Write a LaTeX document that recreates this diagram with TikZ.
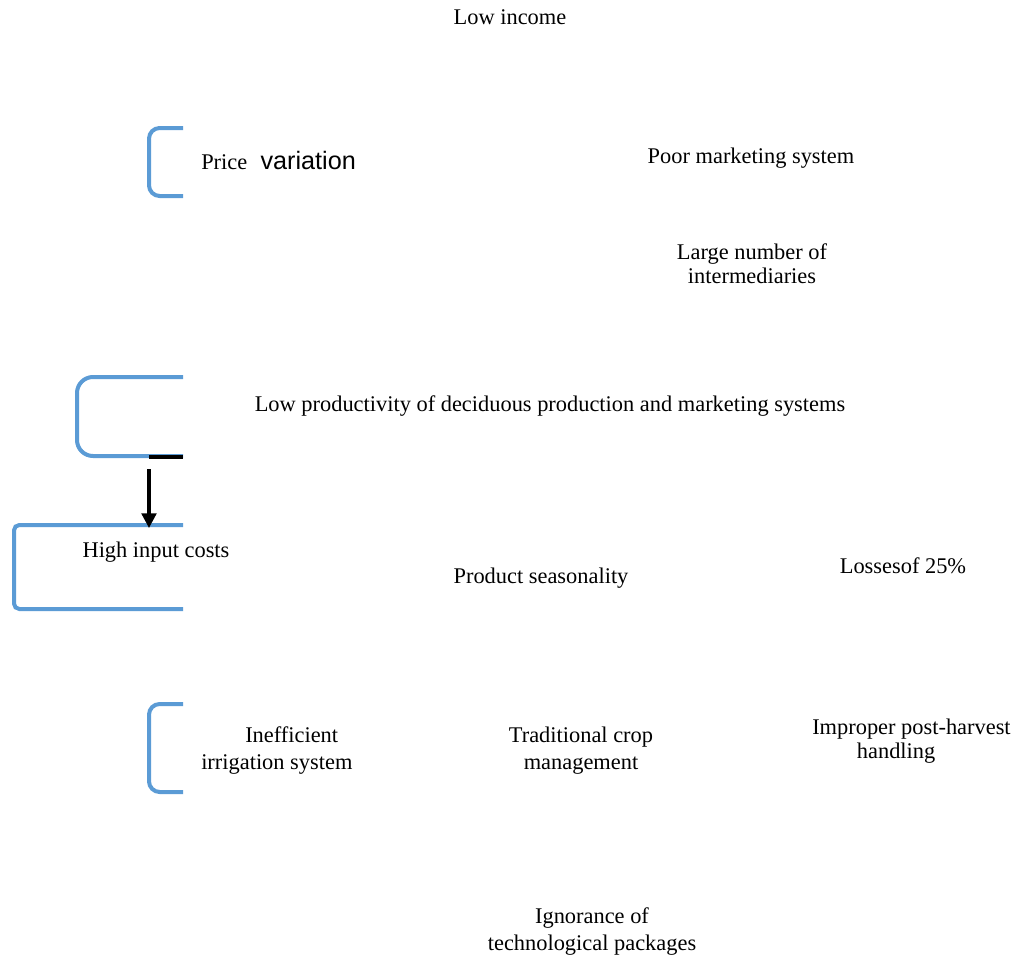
\documentclass[tikz,border=0pt]{standalone}
\usepackage{fontspec}
\usetikzlibrary{arrows.meta}
\setmainfont{Liberation Serif}
\newfontfamily\arialf{Liberation Sans}
\definecolor{bracketblue}{HTML}{5B9BD5}
\tikzset{
  lbl/.style={font=\fontsize{16.8}{18}\selectfont,inner sep=0pt,align=center},
  lblw/.style={font=\fontsize{16.8}{20.25}\selectfont,inner sep=0pt,align=center},
  brk/.style={draw=bracketblue,line width=3pt},
  causearrow/.style={draw=black,line width=2.4pt,-{Triangle[length=11pt,width=11pt]}},
  blackbar/.style={draw=black,line width=2.4pt}
}
\begin{document}
\begin{tikzpicture}[x=0.75pt,y=-0.75pt]
\useasboundingbox (0,0) rectangle (1017,960);
% texts
\node[lbl] (lowinc) at (510,17) {Low income};
\node[lbl,anchor=base west] (price) at (201,169.5) {Price\hspace{10pt}{\arialf\fontsize{18.9}{20}\selectfont variation}};
\node[lbl] (poormkt) at (751,158) {Poor marketing system};
\node[lbl] (inter) at (752,264) {Large number of\\intermediaries};
\node[lbl] (lowprod) at (550,406) {Low productivity of deciduous production and marketing systems};
\node[lbl] (highin) at (156,552) {High input costs};
\node[lbl] (season) at (541,578) {Product seasonality};
\node[lbl] (losses) at (903,566) {Lossesof 25\%};
\node[lblw,align=left,anchor=west] (irrig) at (201,751) {\hspace*{33pt}Inefficient\\irrigation system};
\node[lblw] (trad) at (581,751) {Traditional crop\\management};
\node[lbl,align=left,anchor=west] (improper) at (812,741) {Improper post-harvest\\\hspace*{33.5pt}handling};
\node[lblw] (ignor) at (592,931.5) {Ignorance of\\technological packages};
% brackets
\draw[brk,rounded corners=8pt] (183,128) -- (149,128) -- (149,196) -- (183,196);
\draw[brk,rounded corners=12pt] (183,377) -- (77,377) -- (77,456) -- (183,456);
\draw[brk,rounded corners=4pt] (183,525) -- (14,525) -- (14,609) -- (183,609);
\draw[brk,rounded corners=8pt] (183,704) -- (149,704) -- (149,792) -- (183,792);
% black segment and arrow
\coordinate (segL) at (149,457);
\coordinate (segR) at (183,457);
\draw[blackbar] (segL) -- (segR);
\coordinate (arrS) at (149,469);
\coordinate (arrE) at (149,528);
\path[causearrow] (arrS) -- (arrE);
\end{tikzpicture}
\end{document}
